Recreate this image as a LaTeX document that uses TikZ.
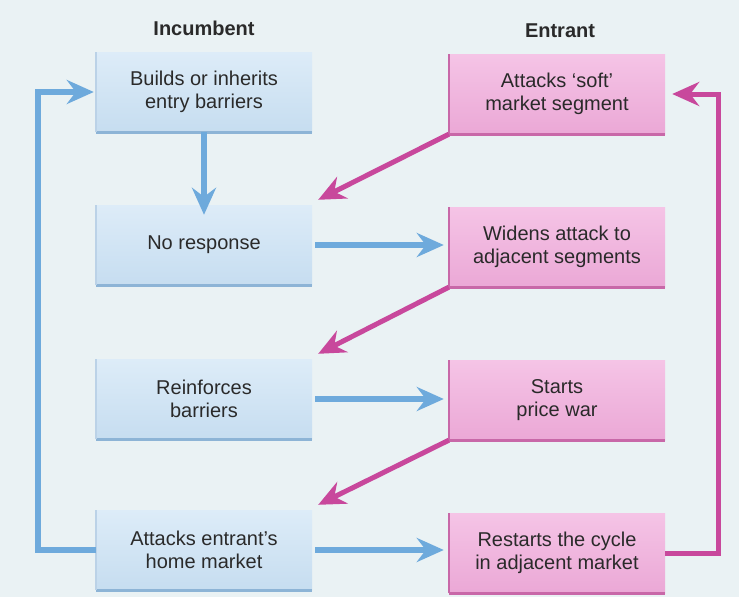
\documentclass[tikz,border=0pt]{standalone}
\usepackage{fontspec}
\setmainfont{Liberation Sans}
\usetikzlibrary{arrows.meta}
\definecolor{bg}{HTML}{EAF2F4}
\definecolor{inctop}{HTML}{DDECF8}
\definecolor{incbot}{HTML}{C6DDF0}
\definecolor{incedge}{HTML}{8DB4D6}
\definecolor{enttop}{HTML}{F5C4E6}
\definecolor{entbot}{HTML}{EBA8D6}
\definecolor{entedge}{HTML}{C868A8}
\definecolor{bluearr}{HTML}{6EAADC}
\definecolor{magarr}{HTML}{C8489C}
\definecolor{txt}{HTML}{2A2A2A}
\tikzset{
  box/.style={minimum width=216pt, minimum height=80pt, align=center, text=txt,
    font=\fontsize{20}{23}\selectfont, inner sep=0pt},
  incbox/.style={box, top color=inctop, bottom color=incbot},
  entbox/.style={box, top color=enttop, bottom color=entbot},
  head/.style={font=\fontsize{20}{23}\selectfont\bfseries, text=txt},
  barrow/.style={draw=bluearr, line width=5.5pt, -{Stealth[length=27pt,width=24pt,inset=9pt]}},
  marrow/.style={draw=magarr, line width=5pt, -{Stealth[length=27pt,width=24pt,inset=9pt]}},
}
\begin{document}
\begin{tikzpicture}[x=1pt,y=-1pt]
\fill[bg] (0,0) rectangle (739,597);
\useasboundingbox (0,0) rectangle (739,597);

\node[head] (hi) at (204,28) {Incumbent};
\node[head] (he) at (560,31) {Entrant};

\node[incbox] (i1) at (204,92) {Builds or inherits\\entry barriers};
\node[incbox] (i2) at (204,245) {No response};
\node[incbox] (i3) at (204,399) {Reinforces\\barriers};
\node[incbox] (i4) at (204,550) {Attacks entrant's\\home market};

\node[entbox] (r1) at (557,94) {Attacks `soft'\\market segment};
\node[entbox] (r2) at (557,247) {Widens attack to\\adjacent segments};
\node[entbox] (r3) at (557,400) {Starts\\price war};
\node[entbox] (r4) at (557,553) {Restarts the cycle\\in adjacent market};

\foreach \n in {i1,i2,i3,i4}{
  \draw[incedge, line width=3pt] (\n.south west) -- (\n.south east);
  \draw[incedge!60, line width=1.5pt] (\n.south west) -- (\n.north west);
}
\foreach \n in {r1,r2,r3,r4}{
  \draw[entedge, line width=3pt] (\n.south west) -- (\n.south east);
  \draw[entedge, line width=2pt] (\n.south west) -- (\n.north west);
}

% blue arrows
\draw[barrow] (i1.south) -- ([yshift=-10pt]i2.north);
\draw[barrow] ([xshift=3pt]i2.east) -- ([xshift=-5pt]i2.east -| r2.west);
\draw[barrow] ([xshift=3pt]i3.east) -- ([xshift=-5pt]i3.east -| r3.west);
\draw[barrow] ([xshift=3pt]i4.east) -- ([xshift=-5pt]i4.east -| r4.west);
\draw[barrow] (i4.west) -- ++(-58,0) |- ([xshift=-2pt]i1.west);

% magenta arrows
\draw[marrow] (r1.south west) -- ([shift={(6,-5)}]i2.north east);
\draw[marrow] (r2.south west) -- ([shift={(6,-5)}]i3.north east);
\draw[marrow] (r3.south west) -- ([shift={(6,-5)}]i4.north east);
\draw[marrow] (r4.east) -- ++(53,0) |- ([xshift=7pt]r1.east);
\end{tikzpicture}
\end{document}
